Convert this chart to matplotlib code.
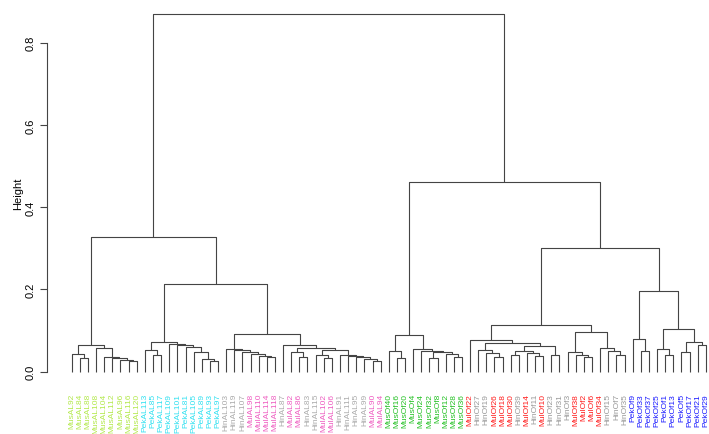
import re
import matplotlib
matplotlib.use("Agg")
import matplotlib.pyplot as plt

plt.rcParams['font.family'] = ['Liberation Sans', 'DejaVu Sans']

# leaf labels in plotting order
labels = [
    "MusAL92", "MusAL84", "MusAL88", "MusAL108", "MusAL104", "MusAL112", "MusAL96", "MusAL116", "MusAL120",
    "PekAL113", "PekAL85", "PekAL117", "PekAL109", "PekAL101", "PekAL81", "PekAL105", "PekAL89", "PekAL93", "PekAL97",
    "HinAL103", "HinAL119", "HinAL107", "MulAL98", "MulAL110", "MulAL114", "MulAL118",
    "HinAL87", "MulAL82", "MulAL86", "HinAL83", "HinAL115", "MulAL102", "MulAL106",
    "HinAL91", "HinAL111", "HinAL95", "HinAL99", "MulAL90", "MulAL94",
    "MusOf40", "MusOf16", "MusOf20", "MusOf4", "MusOf24", "MusOf32", "MusOf8", "MusOf12", "MusOf28", "MusOf36",
    "MulOf22", "HinOf27", "HinOf19", "MulOf26", "MulOf18", "MulOf30", "HinOf39", "MulOf14", "HinOf11", "MulOf10",
    "HinOf23", "HinOf31", "HinOf3", "MulOf38", "MulOf2", "MulOf6", "MulOf34", "HinOf15", "HinOf7", "HinOf35",
    "PekOf9", "PekOf33", "PekOf37", "PekOf25", "PekOf1", "PekOf13", "PekOf5", "PekOf17", "PekOf21", "PekOf29",
]

group_colors = {
    "MusAL": "#b2e84a", "PekAL": "#2ee0f0", "HinAL": "#aaaaaa", "MulAL": "#ee5cc0",
    "MusOf": "#22c022", "MulOf": "#ff1a1a", "HinOf": "#999999", "PekOf": "#1a1aff",
}

# merge tree: (height, left, right); ints are leaf positions
mus_al = (0.064, (0.044, 0, (0.034, 1, 2)),
          (0.058, 3, (0.035, 4, (0.032, 5, (0.029, 6, (0.025, 7, 8))))))
pek_al = (0.073, (0.052, 9, (0.041, 10, 11)),
          (0.068, 12, (0.064, 13, (0.060, 14, (0.048, 15, (0.031, 16, (0.027, 17, 18)))))))
hm_al_a = (0.056, 19, (0.052, 20, (0.048, 21, (0.043, 22, (0.038, 23, (0.035, 24, 25))))))
hm_al_b = (0.064, 26, (0.058, (0.048, 27, (0.036, 28, 29)),
                       (0.052, (0.040, 30, (0.034, 31, 32)),
                        (0.040, 33, (0.038, 34, (0.035, 35, (0.031, 36, (0.026, 37, 38))))))))
al_tree = (0.328, mus_al, (0.213, pek_al, (0.092, hm_al_a, hm_al_b)))

mus_of = (0.088, (0.049, 39, (0.034, 40, 41)),
          (0.054, 42, (0.050, 43, (0.047, (0.033, 44, 45), (0.043, 46, (0.036, 47, 48))))))
hm_of_a = (0.076, 49, (0.070, (0.052, 50, (0.046, 51, (0.036, 52, 53))),
                       (0.062, (0.050, (0.040, 54, 55), (0.046, 56, (0.038, 57, 58))), (0.040, 59, 60))))
hm_of_b = (0.096, (0.048, 61, (0.041, 62, (0.035, 63, 64))),
           (0.057, 65, (0.049, 66, (0.040, 67, 68))))
pek_of = (0.197, (0.080, 69, (0.049, 70, 71)),
          (0.104, (0.056, 72, (0.040, 73, 74)), (0.072, (0.048, 75, 76), (0.064, 77, 78))))
of_tree = (0.461, mus_of, (0.300, (0.114, hm_of_a, hm_of_b), pek_of))

tree = (0.869, al_tree, of_tree)


def draw(ax, node):
    if isinstance(node, int):
        return node, 0.0
    h, left, right = node
    xl, hl = draw(ax, left)
    xr, hr = draw(ax, right)
    ax.plot([xl, xl, xr, xr], [hl, h, h, hr], color="#444444", lw=0.8,
            solid_capstyle="butt")
    return (xl + xr) / 2, h


fig = plt.figure(figsize=(7.09, 4.35), dpi=100)
ax = fig.add_axes([47 / 709, 1 - 387 / 435, 662 / 709, 386 / 435])
draw(ax, tree)

ax.set_xlim(-3.04, 78.39)
ax.set_ylim(-0.035, 0.904)
for s in ["top", "right", "bottom"]:
    ax.spines[s].set_visible(False)
ax.spines["left"].set_bounds(0, 0.8)
ax.spines["left"].set_color("#444444")
ax.set_yticks([0, 0.2, 0.4, 0.6, 0.8])
ax.set_yticklabels(["0.0", "0.2", "0.4", "0.6", "0.8"], rotation=90, va="center", fontsize=8)
ax.tick_params(axis="y", length=5, color="#444444", pad=3)
ax.set_ylabel("Height", fontsize=8, labelpad=2)

ax.set_xticks(range(len(labels)))
ax.set_xticklabels(labels, rotation=90, fontsize=6.0)
ax.tick_params(axis="x", length=0, pad=5)
for tick, lab in zip(ax.get_xticklabels(), labels):
    tick.set_color(group_colors[re.match(r"[A-Za-z]+", lab).group()])

fig.savefig("out.png", dpi=100)
